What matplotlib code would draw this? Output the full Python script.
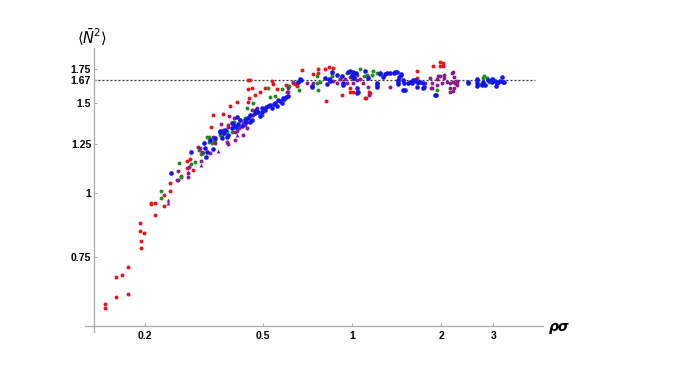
import matplotlib
matplotlib.use('Agg')
import matplotlib.pyplot as plt
from matplotlib.ticker import FixedLocator, FixedFormatter, NullLocator

# values (rho*sigma, <N^2>)
red_x = [0.146, 0.146, 0.160, 0.160, 0.167, 0.175, 0.175, 0.194, 0.194, 0.192,
         0.198, 0.192, 0.216, 0.210, 0.210, 0.216, 0.232, 0.232, 0.243, 0.243,
         0.264, 0.277, 0.277, 0.290, 0.284, 0.366, 0.388, 0.409, 0.338, 0.334,
         0.452, 0.445, 0.460, 0.490, 0.510, 0.540, 0.557, 0.536, 0.450, 0.445,
         0.382, 0.445, 0.470, 0.600, 0.642, 0.632, 0.608, 0.652, 0.652, 0.678,
         0.738, 0.768, 0.768, 0.811, 0.836, 0.863, 0.856, 0.817, 0.925, 0.985,
         0.985, 1.010, 1.040, 1.040, 1.106, 1.140, 1.115, 1.150, 1.660, 1.880,
         1.980, 2.030, 1.980, 2.030, 1.660]
red_y = [0.605, 0.594, 0.625, 0.684, 0.690, 0.715, 0.633, 0.780, 0.805, 0.842,
         0.835, 0.873, 0.905, 0.956, 0.952, 0.956, 0.943, 0.990, 1.010, 1.046,
         1.080, 1.120, 1.155, 1.110, 1.165, 1.430, 1.480, 1.510, 1.420, 1.350,
         1.667, 1.600, 1.610, 1.580, 1.610, 1.640, 1.600, 1.660, 1.540, 1.510,
         1.360, 1.667, 1.560, 1.630, 1.640, 1.645, 1.620, 1.645, 1.620, 1.745,
         1.713, 1.753, 1.720, 1.753, 1.770, 1.760, 1.720, 1.516, 1.558, 1.610,
         1.580, 1.580, 1.580, 1.706, 1.540, 1.580, 1.537, 1.570, 1.737, 1.776,
         1.810, 1.800, 1.776, 1.776, 1.680]

green_x = [0.226, 0.226, 0.260, 0.264, 0.286, 0.295, 0.304, 0.309, 0.329, 0.337,
           0.342, 0.358, 0.378, 0.396, 0.393, 0.412, 0.329, 0.324, 0.314, 0.345,
           0.364, 0.393, 0.435, 0.459, 0.477, 0.496, 0.442, 0.463, 0.500, 0.528,
           0.520, 0.400, 0.420, 0.450, 0.470, 0.550, 0.580, 0.612, 0.662, 0.762,
           0.780, 0.768, 0.856, 1.064, 1.098, 1.124, 1.168, 1.024, 0.962, 0.911,
           0.762, 1.215, 1.177, 1.940, 2.260, 2.640, 2.770, 2.860, 2.790, 2.900,
           3.000, 2.710]
green_y = [1.009, 0.978, 1.146, 1.075, 1.140, 1.150, 1.215, 1.193, 1.288, 1.254,
           1.265, 1.300, 1.324, 1.367, 1.318, 1.348, 1.260, 1.288, 1.198, 1.271,
           1.300, 1.342, 1.404, 1.423, 1.443, 1.423, 1.470, 1.502, 1.456, 1.544,
           1.608, 1.380, 1.390, 1.410, 1.450, 1.550, 1.600, 1.623, 1.594, 1.698,
           1.652, 1.594, 1.698, 1.753, 1.698, 1.706, 1.706, 1.698, 1.720, 1.675,
           1.645, 1.720, 1.737, 1.594, 1.652, 1.667, 1.682, 1.682, 1.698, 1.652,
           1.675, 1.637]

purple_x = [0.258, 0.258, 0.279, 0.279, 0.281, 0.309, 0.302, 0.332, 0.345, 0.339,
            0.361, 0.367, 0.378, 0.381, 0.384, 0.399, 0.409, 0.256, 0.306, 0.311,
            0.381, 0.403, 0.428, 0.403, 0.415, 0.435, 0.442, 0.442, 0.463, 0.477,
            0.399, 0.608, 0.608, 0.428, 0.459, 0.481, 0.603, 0.632, 0.705, 0.738,
            0.843, 0.863, 0.890, 0.911, 0.947, 0.962, 0.985, 1.010, 1.040, 1.064,
            1.090, 1.130, 1.140, 1.130, 1.340, 1.670, 1.760, 1.860, 1.940, 2.010,
            2.090, 2.140, 2.190, 2.260, 2.180, 2.210, 2.190, 1.980, 2.050, 1.860,
            1.830, 2.140, 2.210, 2.140, 1.950, 2.050, 1.850, 1.940, 2.190, 2.230,
            2.260]
purple_y = [1.105, 1.061, 1.095, 1.075, 1.125, 1.156, 1.231, 1.198, 1.254, 1.288,
            1.367, 1.330, 1.260, 1.348, 1.417, 1.348, 1.324, 1.061, 1.226, 1.204,
            1.248, 1.271, 1.300, 1.318, 1.342, 1.360, 1.342, 1.404, 1.423, 1.469,
            1.404, 1.608, 1.580, 1.373, 1.456, 1.443, 1.580, 1.652, 1.645, 1.645,
            1.675, 1.660, 1.645, 1.675, 1.675, 1.645, 1.690, 1.645, 1.667, 1.675,
            1.645, 1.615, 1.560, 1.690, 1.615, 1.645, 1.645, 1.645, 1.675, 1.645,
            1.652, 1.645, 1.652, 1.630, 1.720, 1.690, 1.586, 1.698, 1.682, 1.608,
            1.682, 1.608, 1.608, 1.580, 1.698, 1.706, 1.608, 1.630, 1.728, 1.645,
            1.660]
# purple points drawn as small triangles
purple_tri_x = [0.239, 0.239, 0.279, 0.309, 0.353, 0.378, 0.409]
purple_tri_y = [0.969, 0.956, 1.100, 1.135, 1.209, 1.260, 1.300]

blue_x = [0.245, 0.286, 0.321, 0.316, 0.339, 0.358, 0.369, 0.378, 0.393, 0.409,
          0.406, 0.319, 0.324, 0.331, 0.345, 0.358, 0.364, 0.372, 0.381, 0.393,
          0.403, 0.412, 0.418, 0.425, 0.435, 0.445, 0.452, 0.459, 0.470, 0.481,
          0.488, 0.496, 0.508, 0.520, 0.528, 0.536, 0.549, 0.557, 0.571, 0.580,
          0.589, 0.598, 0.608, 0.584, 0.562, 0.545, 0.512, 0.496, 0.474, 0.452,
          0.438, 0.657, 0.673, 0.732, 0.823, 0.836, 0.856, 0.925, 0.932, 0.985,
          1.010, 1.030, 1.016, 1.040, 1.215, 1.243, 1.270, 1.310, 1.340, 1.387,
          1.419, 1.464, 1.442, 1.430, 1.430, 1.487, 1.545, 1.607, 1.660, 1.737,
          1.750, 1.906, 2.465, 2.640, 2.640, 2.750, 2.880, 2.970, 3.040, 3.090,
          3.160, 3.210, 3.240, 2.640, 2.640, 2.770, 2.810, 2.970, 3.060, 3.120,
          3.260, 2.465, 1.215, 1.243, 1.290, 1.400, 1.464, 1.430, 1.487, 1.500,
          1.510, 1.570, 1.595, 1.630, 1.660, 1.700, 1.737, 1.920, 0.667, 0.732,
          0.811, 0.843, 0.890, 0.969, 1.000, 1.010, 1.040, 1.048, 1.106, 1.130,
          1.215, 0.932]
blue_y = [1.095, 1.204, 1.177, 1.254, 1.220, 1.324, 1.311, 1.288, 1.373, 1.411,
          1.348, 1.226, 1.204, 1.271, 1.283, 1.318, 1.283, 1.330, 1.300, 1.342,
          1.354, 1.367, 1.392, 1.354, 1.392, 1.404, 1.423, 1.392, 1.436, 1.443,
          1.417, 1.469, 1.456, 1.482, 1.489, 1.469, 1.502, 1.482, 1.516, 1.502,
          1.530, 1.544, 1.551, 1.537, 1.523, 1.496, 1.476, 1.443, 1.456, 1.379,
          1.379, 1.652, 1.667, 1.623, 1.637, 1.675, 1.728, 1.698, 1.630, 1.737,
          1.728, 1.720, 1.682, 1.572, 1.615, 1.720, 1.690, 1.720, 1.720, 1.720,
          1.728, 1.713, 1.690, 1.652, 1.637, 1.594, 1.645, 1.667, 1.652, 1.645,
          1.615, 1.560, 1.645, 1.623, 1.667, 1.630, 1.667, 1.675, 1.660, 1.645,
          1.660, 1.690, 1.652, 1.675, 1.645, 1.652, 1.630, 1.652, 1.623, 1.652,
          1.652, 1.652, 1.630, 1.713, 1.713, 1.728, 1.706, 1.667, 1.667, 1.645,
          1.594, 1.652, 1.645, 1.667, 1.615, 1.652, 1.608, 1.560, 1.675, 1.615,
          1.682, 1.660, 1.706, 1.728, 1.706, 1.682, 1.608, 1.580, 1.737, 1.682,
          1.645, 1.645]

x_ticks = [0.2, 0.5, 1, 2, 3]
x_labels = ['0.2', '0.5', '1', '2', '3']
y_ticks = [0.75, 1, 1.25, 1.5, 1.67, 1.75]
y_labels = ['0.75', '1', '1.25', '1.5', '1.67', '1.75']
plateau = 1.67

W, H = 681, 383
fig = plt.figure(figsize=(W / 100, H / 100), dpi=100)
ax = fig.add_axes([85 / W, (H - 332) / H, (543 - 85) / W, (332 - 48) / H])
ax.set_xscale('log')
ax.set_yscale('log')
ax.set_xlim(0.1253, 4.42)
ax.set_ylim(0.533, 1.927)

ax.plot([0.1344, 4.15], [plateau, plateau], color='#333333', lw=0.9,
        ls=(0, (1.6, 1.6)), zorder=1)

ax.scatter(red_x, red_y, s=8, color='#e8141b', lw=0, zorder=3)
ax.scatter(green_x, green_y, s=8, color='#1f8a1f', lw=0, zorder=3)
ax.scatter(purple_x, purple_y, s=8, color='#8a1b8a', lw=0, zorder=3)
ax.scatter(purple_tri_x, purple_tri_y, s=8, marker='^', color='#8a1b8a',
           lw=0, zorder=3)
ax.scatter(blue_x, blue_y, s=11, color='#1414f0', lw=0, zorder=3)

for side in ('top', 'right'):
    ax.spines[side].set_visible(False)
ax.spines['left'].set_position(('data', 0.1344))
ax.spines['bottom'].set_position(('data', 0.548))
for side in ('left', 'bottom'):
    ax.spines[side].set_color('#aaaaaa')
    ax.spines[side].set_linewidth(0.9)

ax.xaxis.set_major_locator(FixedLocator(x_ticks))
ax.xaxis.set_major_formatter(FixedFormatter(x_labels))
ax.yaxis.set_major_locator(FixedLocator(y_ticks))
ax.yaxis.set_major_formatter(FixedFormatter(y_labels))
ax.xaxis.set_minor_locator(NullLocator())
ax.yaxis.set_minor_locator(NullLocator())
ax.tick_params(direction='in', length=2.5, width=0.7, color='#aaaaaa',
               labelsize=7.5, pad=2)
ax.tick_params(axis='x', pad=4)
for lab in ax.get_xticklabels() + ax.get_yticklabels():
    lab.set_fontweight('bold')
    lab.set_family('Liberation Sans')

fig.text(92 / W, 1 - 37 / H, r'$\langle\bar{N}^{2}\rangle$', ha='center',
         va='center', fontsize=10.5)
fig.text(549 / W, 1 - 327 / H, 'ρσ', ha='left', va='center',
         fontsize=10, style='italic', fontweight='bold', family='DejaVu Sans')

fig.savefig('out.png', dpi=100)
